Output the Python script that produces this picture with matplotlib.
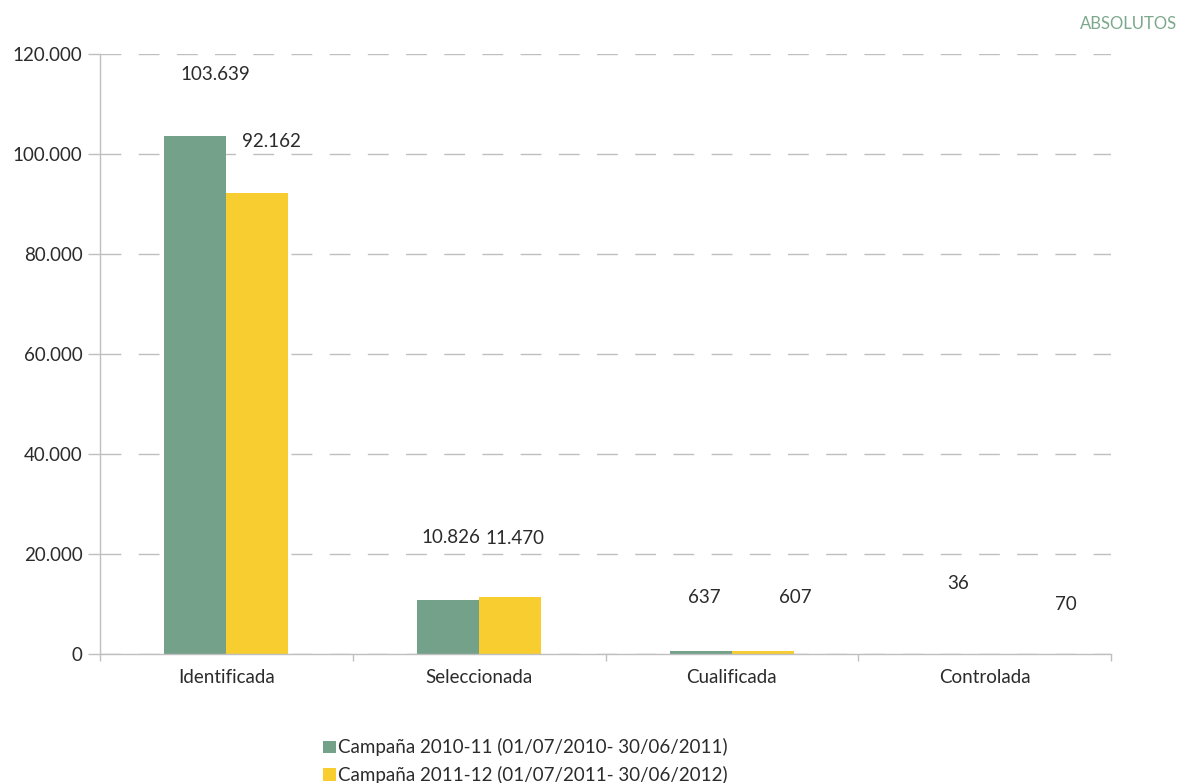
import matplotlib.pyplot as plt
import numpy as np

plt.rcParams['font.family'] = ['Lato', 'DejaVu Sans']

categorias = ['Identificada', 'Seleccionada', 'Cualificada', 'Controlada']
campana_2010 = [103639, 10826, 637, 36]
campana_2011 = [92162, 11470, 607, 70]
etiquetas_2010 = ['103.639', '10.826', '637', '36']
etiquetas_2011 = ['92.162', '11.470', '607', '70']
yticks = [0, 20000, 40000, 60000, 80000, 100000, 120000]
ytick_labels = ['0', '20.000', '40.000', '60.000', '80.000', '100.000', '120.000']
leyenda = ['Campaña 2010-11 (01/07/2010- 30/06/2011)',
           'Campaña 2011-12 (01/07/2011- 30/06/2012)']

# desplazamiento de las etiquetas (pixeles) respecto a la cima de cada barra
off_2010 = [(20, 61), (3, 62), (3, 53), (4, 70)]
off_2011 = [(14, 52), (5, 58), (32, 53), (50, 49)]

verde = '#73A189'
amarillo = '#F8CD2F'
texto = '#2B2B2B'
gris = '#BFBFBF'
fs = 13.5

fig = plt.figure(figsize=(11.81, 7.83), dpi=100)
ax = fig.add_axes([100 / 1181, 1 - 654 / 783, 1011 / 1181, 600 / 783])

x = np.arange(len(categorias))
w = 0.245
b1 = ax.bar(x - w / 2, campana_2010, w, color=verde, label=leyenda[0], zorder=3)
b2 = ax.bar(x + w / 2, campana_2011, w, color=amarillo, label=leyenda[1], zorder=3)

for rect, lab, (dx, dy) in zip(b1, etiquetas_2010, off_2010):
    ax.annotate(lab, (rect.get_x() + rect.get_width() / 2, rect.get_height()),
                xytext=(dx, dy), textcoords='offset pixels', ha='center', va='center',
                fontsize=fs, color=texto)
for rect, lab, (dx, dy) in zip(b2, etiquetas_2011, off_2011):
    ax.annotate(lab, (rect.get_x() + rect.get_width() / 2, rect.get_height()),
                xytext=(dx, dy), textcoords='offset pixels', ha='center', va='center',
                fontsize=fs, color=texto)

ax.set_xlim(-0.5, len(categorias) - 0.5)
ax.set_ylim(0, 120000)
ax.set_yticks(yticks)
ax.set_yticklabels(ytick_labels, fontsize=fs, color=texto)
ax.set_xticks(x)
ax.set_xticklabels(categorias, fontsize=fs, color=texto)
ax.set_xticks(np.arange(-0.5, len(categorias)), minor=True)

ax.tick_params(axis='x', which='major', length=0, pad=11)
ax.tick_params(axis='x', which='minor', length=5, color=gris, width=1)
ax.tick_params(axis='y', length=8.6, color=gris, width=1, pad=4)

ax.yaxis.grid(True, color=gris, linestyle=(0, (15, 12.5)), linewidth=1, zorder=0)
for s in ['top', 'right']:
    ax.spines[s].set_visible(False)
for s in ['left', 'bottom']:
    ax.spines[s].set_color(gris)
    ax.spines[s].set_linewidth(1)
ax.spines['bottom'].set_zorder(4)

fig.legend(handles=[b1, b2], labels=leyenda, loc='upper left',
           bbox_to_anchor=(314 / 1181, 1 - 729 / 783), frameon=False,
           handlelength=0.65, handleheight=0.65, handletextpad=0.15,
           labelspacing=0.5, borderpad=0, labelcolor=texto,
           prop={'size': fs})

fig.text(1177 / 1181, 1 - 24 / 783, 'ABSOLUTOS', ha='right', va='center',
         fontsize=12, color='#7BA88C')

fig.savefig('out.png', dpi=100)
